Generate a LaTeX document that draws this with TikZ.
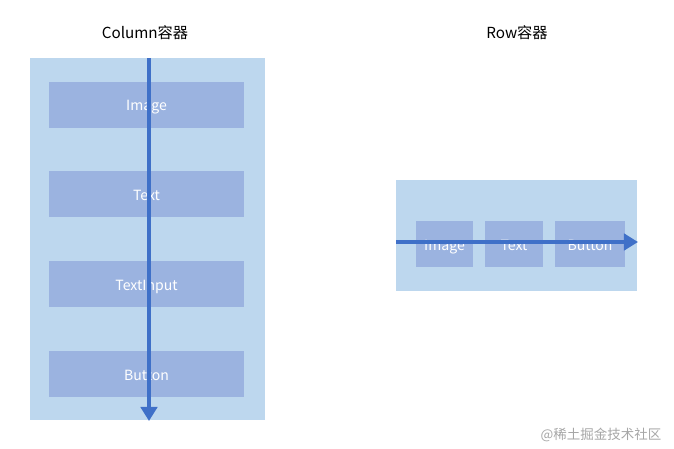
\documentclass[tikz,border=0pt]{standalone}
\usepackage{fontspec}
\setmainfont{Noto Sans CJK SC}
\usetikzlibrary{arrows.meta}
\definecolor{outerblue}{HTML}{BDD7EE}
\definecolor{innerblue}{HTML}{9BB3E0}
\definecolor{flowblue}{HTML}{3F70C8}
\tikzset{
  container/.style={fill=outerblue, draw=none},
  item/.style={fill=innerblue, draw=none, text=white, inner sep=0pt, text height=2ex, text depth=0ex, font=\fontsize{12}{14}\selectfont},
  flow/.style={flowblue, line width=3.4pt, -{Triangle[width=14pt,length=12pt]}},
  title/.style={font=\fontsize{13}{15}\selectfont}
}
\begin{document}
\begin{tikzpicture}[x=0.03cm,y=-0.03cm]
\useasboundingbox (0,0) rectangle (674,448);
% column
\node[title] (coltitle) at (145,33) {Column容器};
\fill[container] (30,58) rectangle (265,420);
\foreach \name/\y/\txt in {cimg/104.5/Image, ctxt/194/Text, cinput/284/TextInput, cbtn/374/Button}
	\node[item, minimum width=195*0.03cm, minimum height=46*0.03cm] (\name) at (146.5,\y) {\txt};
\coordinate (colstart) at (149,58);
\coordinate (colend) at (149,421);
\draw[flow] (colstart) -- (colend);
% row
\node[title] (rowtitle) at (517,33) {Row容器};
\fill[container] (396,180) rectangle (637,291);
\node[item, minimum width=57*0.03cm, minimum height=46*0.03cm] (rimg) at (444.5,244) {Image};
\node[item, minimum width=58*0.03cm, minimum height=46*0.03cm] (rtxt) at (514,244) {Text};
\node[item, minimum width=70*0.03cm, minimum height=46*0.03cm] (rbtn) at (590,244) {Button};
\coordinate (rowstart) at (396,242);
\coordinate (rowend) at (638,242);
\draw[flow] (rowstart) -- (rowend);
% watermark
\node[text=black!35, font=\fontsize{11.5}{13}\selectfont] (mark) at (601,435) {@稀土掘金技术社区};
\end{tikzpicture}
\end{document}
